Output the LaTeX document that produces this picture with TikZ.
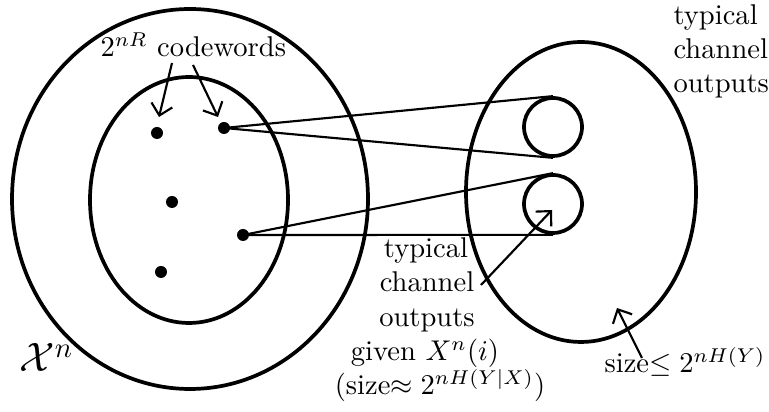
\documentclass[tikz,border=0pt]{standalone}
\usepackage{amsmath,amssymb}
\usetikzlibrary{shapes.geometric,arrows.meta}
\tikzset{
  setline/.style={draw, line width=1.3pt, ellipse, inner sep=0pt},
  dotnode/.style={fill, circle, inner sep=0pt, minimum size=4.2pt},
  link/.style={line width=0.75pt},
  pointer/.style={line width=0.75pt, -{Straight Barb[length=3.8pt,width=7.5pt,line width=0.75pt]}},
  lbl/.style={inner sep=0pt, font=\normalsize}
}
\begin{document}
\begin{tikzpicture}[x=0.35pt,y=-0.35pt]
\useasboundingbox (0,0) rectangle (769,412);
% sets
\node[setline, minimum width=124.6pt, minimum height=133pt] (outer) at (190,199) {};
\node[setline, minimum width=69.3pt, minimum height=86.1pt] (inner) at (189,200) {};
\node[setline, minimum width=80.5pt, minimum height=105pt] (yset) at (581,192) {};
\node[setline, circle, minimum size=20.3pt] (c1) at (553,127) {};
\node[setline, circle, minimum size=20.3pt] (c2) at (553,204) {};
% codewords
\node[dotnode] (d1) at (157,133) {};
\node[dotnode] (d2) at (224,128) {};
\node[dotnode] (d3) at (172,202) {};
\node[dotnode] (d4) at (243,235) {};
\node[dotnode] (d5) at (161,272) {};
% connections
\draw[link] (d2.center) -- (c1.north);
\draw[link] (d2.center) -- (c1.south);
\draw[link] (d4.center) -- (c2.north);
\draw[link] (d4.center) -- (c2.south);
% labels
\node[lbl, anchor=base west] (cw) at (100,57) {$2^{nR}$ codewords};
\node[lbl, anchor=base west, font=\Large] (xn) at (19,372) {$\mathcal{X}^n$};
\node[lbl, anchor=base west] (t1) at (673,25) {typical};
\node[lbl, anchor=base west] (t2) at (673,59) {channel};
\node[lbl, anchor=base west] (t3) at (673,93) {outputs};
\node[lbl, anchor=base] (g1) at (426,258) {typical};
\node[lbl, anchor=base] (g2) at (427,292) {channel};
\node[lbl, anchor=base] (g3) at (427,327) {outputs};
\node[lbl, anchor=base] (g4) at (425,361) {given $X^n(i)$};
\node[lbl, anchor=base] (g5) at (440,395) {(size$\approx 2^{nH(Y|X)}$)};
\node[lbl, anchor=base west] (sz) at (604,373) {size$\leq 2^{nH(Y)}$};
% pointers
\coordinate (a1s) at (172,63);
\coordinate (a1e) at (159,117);
\coordinate (a2s) at (193,65);
\coordinate (a2e) at (218,117);
\coordinate (a3s) at (481,285);
\coordinate (a3e) at (552,210);
\coordinate (a4s) at (642,358);
\coordinate (a4e) at (617,308);
\draw[pointer] (a1s) -- (a1e);
\draw[pointer] (a2s) -- (a2e);
\draw[pointer] (a3s) -- (a3e);
\draw[pointer] (a4s) -- (a4e);
\end{tikzpicture}
\end{document}
